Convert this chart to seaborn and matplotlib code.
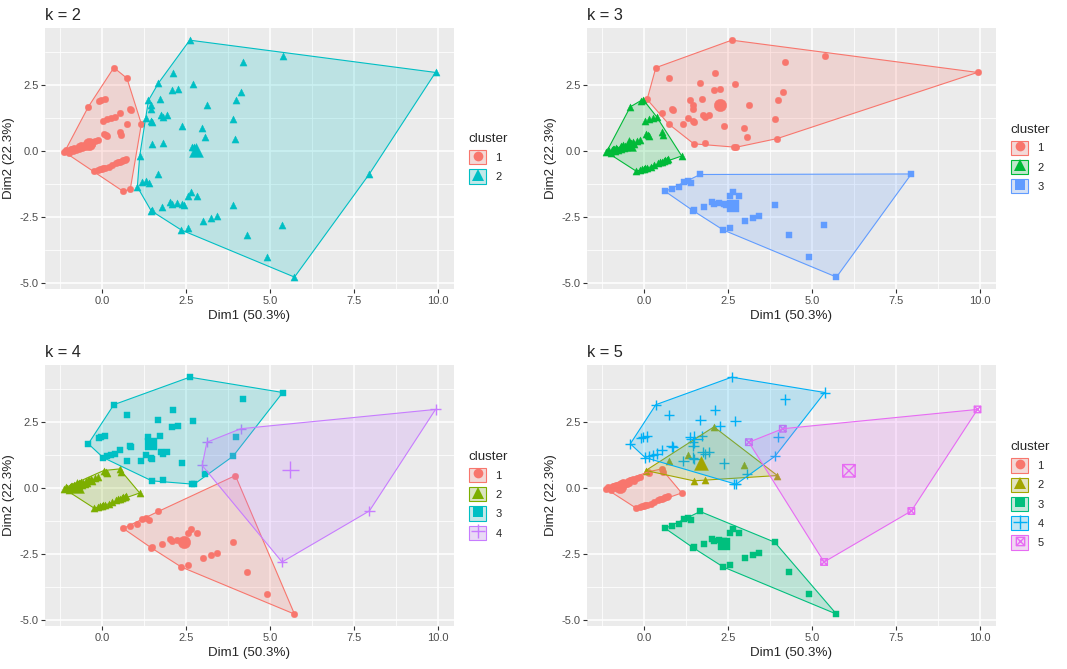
import numpy as np
import matplotlib
matplotlib.use("Agg")
import matplotlib.pyplot as plt
import seaborn as sns
from matplotlib.path import Path
from matplotlib.markers import MarkerStyle
from matplotlib.patches import Patch
from matplotlib.lines import Line2D
from matplotlib.legend_handler import HandlerTuple
from matplotlib.colors import to_rgb

# ---- DATA: PCA coordinates of the observations (read off the chart) ----
# lower group
dim1_a = [1.67, 0.63, 0.84, 1.05, 1.19, 1.32, 1.39, 2.65, 2.84, 2.55, 2.03, 2.08, 2.22, 2.39,
          2.45, 1.78, 1.46, 1.50, 3.89, 3.01, 3.23, 3.43, 2.55, 2.36, 4.32, 4.92, 5.73, 3.97]
dim2_a = [-0.89, -1.53, -1.44, -1.36, -1.19, -1.15, -1.21, -1.57, -1.69, -1.72, -1.93, -2.01, -1.95, -1.99,
          -2.06, -2.13, -2.26, -2.25, -2.05, -2.63, -2.53, -2.45, -2.91, -2.99, -3.17, -4.01, -4.77, 0.47]
# outliers on the right
dim1_b = [9.93, 4.13, 3.12, 2.98, 7.96, 5.36]
dim2_b = [2.97, 2.24, 1.73, 0.85, -0.87, -2.80]
# upper group
dim1_d = [2.61, 0.35, 0.74, 2.12, 4.20, 5.38, 1.68, 2.72, 2.08, 2.27, -0.41, -0.10, -0.02, 0.09,
          1.38, 1.46, 1.72, 1.47, 0.82, 0.86, 0.52, 0.03, 0.15, 0.26, 0.37, 4.00, 1.30, 1.46,
          1.50, 1.74, 1.82, 1.94, 0.73, 1.17, 2.38, 3.90, 3.06, 1.48, 1.82, 2.69, 2.74]
dim2_d = [4.19, 3.15, 2.75, 2.94, 3.35, 3.61, 2.57, 2.52, 2.31, 2.33, 1.67, 1.90, 1.93, 1.95,
          1.91, 1.75, 1.97, 1.58, 1.57, 1.54, 1.44, 1.15, 1.19, 1.23, 1.30, 1.92, 1.25, 1.15,
          1.10, 1.36, 1.29, 1.35, 1.02, 1.02, 0.93, 1.20, 0.52, 0.27, 0.30, 0.16, 0.14]
# left group
dim1_e = [-1.12, -1.04, -0.96, -0.89, -0.81, -0.73, -0.65, -0.57, -0.49, -0.41, -0.33, -0.21, -0.12,
          -0.70, -0.86, 0.05, 0.15, 0.52, 0.55, -0.24, -0.12, 0.00, 0.10, 0.22, 0.40, 0.52, 0.62,
          0.72, 1.12,
          -1.00, -0.78, -0.60, -0.45, -0.30, -0.92, 0.12, -0.05, 0.30, 0.46, 0.67,
          -1.08, -0.84, -0.62, -0.52, -0.38, -0.68, 0.04, 0.58]
dim2_e = [-0.04, -0.01, 0.03, 0.06, 0.09, 0.12, 0.15, 0.20, 0.25, 0.29, 0.33, 0.38, 0.42,
          0.06, 0.01, 0.66, 0.57, 0.72, 0.62, -0.76, -0.72, -0.68, -0.64, -0.59, -0.46, -0.40, -0.34,
          -0.30, -0.19,
          -0.06, 0.04, 0.13, 0.20, 0.28, 0.08, 0.61, -0.70, -0.52, -0.42, -0.36,
          0.02, 0.10, 0.21, 0.16, 0.30, 0.17, -0.66, -0.38]

dim1 = dim1_a + dim1_b + dim1_d + dim1_e
dim2 = dim2_a + dim2_b + dim2_d + dim2_e

# ---- cluster memberships for each k ----
k2_cluster = ([2, 1, 1] + [2] * 25 +
              [2] * 6 +
              [2, 1, 1, 2, 2, 2, 2, 2, 2, 2, 1, 1, 1, 1, 2, 2, 2, 2, 1, 1, 1, 1, 1, 1, 1, 2, 2, 2,
               2, 2, 2, 2, 1, 1, 2, 2, 2, 2, 2, 2, 2] +
              [1] * 28 + [2] + [1] * 19)
k3_cluster = ([3] * 27 + [1] +
              [1, 1, 1, 1, 3, 3] +
              [1, 1, 1, 1, 1, 1, 1, 1, 1, 1, 2, 2, 2, 1, 1, 1, 1, 1, 1, 1, 1, 2, 2, 2, 2, 1, 1, 1,
               1, 1, 1, 1, 1, 1, 1, 1, 1, 1, 1, 1, 1] +
              [2] * 48)
k4_cluster = [1] * 28 + [4] * 6 + [3] * 41 + [2] * 48
k5_cluster = ([3] * 27 + [2] +
              [5, 5, 5, 2, 5, 5] +
              [4, 4, 4, 4, 4, 4, 4, 4, 2, 4, 4, 4, 4, 4, 4, 4, 4, 4, 4, 4, 4, 4, 4, 4, 4, 4, 2, 4,
               4, 4, 4, 4, 2, 4, 4, 4, 4, 2, 2, 4, 4] +
              [1] * 15 + [2] + [1] * 32)

# ---- cluster centres ----
k2_cx, k2_cy = [-0.40, 2.80], [0.27, 0.02]
k3_cx, k3_cy = [2.25, -0.45, 2.66], [1.72, 0.25, -2.08]
k4_cx, k4_cy = [2.43, -0.75, 1.45, 5.60], [-2.05, 0.08, 1.68, 0.68]
k5_cx, k5_cy = [-0.72, 1.70, 2.37, 1.50, 6.10], [0.02, 0.95, -2.12, 1.85, 0.65]

palettes = {
    2: ["#F8766D", "#00BFC4"],
    3: ["#F8766D", "#00BA38", "#619CFF"],
    4: ["#F8766D", "#7CAE00", "#00BFC4", "#C77CFF"],
    5: ["#F8766D", "#A3A500", "#00BF7D", "#00B0F6", "#E76BF3"],
}
memberships = {2: k2_cluster, 3: k3_cluster, 4: k4_cluster, 5: k5_cluster}
centres = {2: (k2_cx, k2_cy), 3: (k3_cx, k3_cy), 4: (k4_cx, k4_cy), 5: (k5_cx, k5_cy)}

# boxed cross marker (ggplot shape 7)
boxed_x = Path([(-1, -1), (1, -1), (1, 1), (-1, 1), (-1, -1), (-1, -1), (1, 1), (-1, 1), (1, -1)],
               [Path.MOVETO, Path.LINETO, Path.LINETO, Path.LINETO, Path.CLOSEPOLY,
                Path.MOVETO, Path.LINETO, Path.MOVETO, Path.LINETO])
# marker, point size, centroid size, filled, legend markersize
shapes = [("o", 22, 80, True, 7.0), ("^", 26, 100, True, 8.0), ("s", 19, 68, True, 6.5),
          ("+", 55, 150, False, 9.5), (boxed_x, 22, 80, False, 6.0)]


def hull(points):
    pts = sorted(set(points))
    if len(pts) < 3:
        return pts

    def cross(o, a, b):
        return (a[0] - o[0]) * (b[1] - o[1]) - (a[1] - o[1]) * (b[0] - o[0])
    lower, upper = [], []
    for p in pts:
        while len(lower) >= 2 and cross(lower[-2], lower[-1], p) <= 0:
            lower.pop()
        lower.append(p)
    for p in reversed(pts):
        while len(upper) >= 2 and cross(upper[-2], upper[-1], p) <= 0:
            upper.pop()
        upper.append(p)
    return lower[:-1] + upper[:-1]


# ---- style: ggplot2 theme_grey look ----
sns.set_style("darkgrid", rc={
    "axes.facecolor": "#EBEBEB", "grid.color": "white", "axes.edgecolor": "none",
    "xtick.bottom": True, "ytick.left": True, "xtick.color": "#333333", "ytick.color": "#333333",
})
plt.rcParams["font.family"] = ["Liberation Sans", "DejaVu Sans"]
plt.rcParams["axes.unicode_minus"] = False

fig = plt.figure(figsize=(10.67, 6.69), dpi=100)
W, H = 1067, 669
panels = {2: (45, 28), 3: (587, 28), 4: (45, 365), 5: (587, 365)}
pw, ph = 409, 261

for k, (px, py) in panels.items():
    ax = fig.add_axes([px / W, 1 - (py + ph) / H, pw / W, ph / H])
    labels = np.array(memberships[k])
    x = np.array(dim1)
    y = np.array(dim2)
    cx, cy = centres[k]
    cols = palettes[k]
    handles = []
    for c in range(1, k + 1):
        col = cols[c - 1]
        mk, s_pt, s_cen, filled, lms = shapes[c - 1]
        sel = labels == c
        if filled:
            kw = dict(edgecolor=col, linewidth=0.3)
            style = mk
        else:
            kw = dict(linewidth=1.0)
            style = MarkerStyle(mk, fillstyle="none")
        sns.scatterplot(x=x[sel], y=y[sel], marker=style, s=s_pt, color=col, ax=ax, zorder=3, **kw)
        h = hull(list(zip(x[sel], y[sel])))
        hx = [p[0] for p in h] + [h[0][0]]
        hy = [p[1] for p in h] + [h[0][1]]
        ax.fill(hx, hy, facecolor=to_rgb(col) + (0.2,), edgecolor=col, linewidth=0.8, zorder=4)
        sns.scatterplot(x=[cx[c - 1]], y=[cy[c - 1]], marker=style, s=s_cen, color=col,
                        ax=ax, zorder=5, **kw)
        bg = np.array(to_rgb(col)) * 0.2 + np.array(to_rgb("#F2F2F2")) * 0.8
        key = Patch(facecolor=bg, edgecolor=col, linewidth=0.8)
        if filled:
            pt = Line2D([], [], linestyle="none", marker=mk, markersize=lms, color=col,
                        markeredgewidth=0)
        else:
            pt = Line2D([], [], linestyle="none", marker=mk, markersize=lms, color=col,
                        fillstyle="none", markeredgewidth=1.0)
        handles.append((key, pt))

    ax.set_xlim(-1.70, 10.48)
    ax.set_ylim(-5.22, 4.65)
    ax.set_xticks([0, 2.5, 5, 7.5, 10])
    ax.set_xticklabels(["0.0", "2.5", "5.0", "7.5", "10.0"])
    ax.set_yticks([-5, -2.5, 0, 2.5])
    ax.set_yticklabels(["-5.0", "-2.5", "0.0", "2.5"])
    ax.set_xticks([-1.25, 1.25, 3.75, 6.25, 8.75], minor=True)
    ax.set_yticks([-3.75, -1.25, 1.25, 3.75], minor=True)
    ax.grid(which="major", color="white", linewidth=1.1)
    ax.grid(which="minor", color="white", linewidth=0.55)
    ax.tick_params(which="major", length=2.7, width=0.8, pad=2, labelsize=8,
                   labelcolor="#4D4D4D")
    ax.tick_params(which="minor", length=0)
    ax.set_axisbelow(True)
    ax.set_xlabel("Dim1 (50.3%)", fontsize=9.6, labelpad=3)
    ax.set_ylabel("Dim2 (22.3%)", fontsize=9.6, labelpad=3)
    ax.set_title(f"k = {k}", loc="left", fontsize=11.8, pad=6)
    leg = ax.legend(handles, [str(c) for c in range(1, k + 1)],
                    handler_map={tuple: HandlerTuple(ndivide=1)}, title="cluster",
                    loc="center left", bbox_to_anchor=(1.025, 0.5), frameon=False,
                    fontsize=8, title_fontsize=9.6, handlelength=1.6, handleheight=1.6,
                    labelspacing=0.45, handletextpad=0.8, borderaxespad=0, alignment="left")

fig.savefig("out.png", dpi=100)
